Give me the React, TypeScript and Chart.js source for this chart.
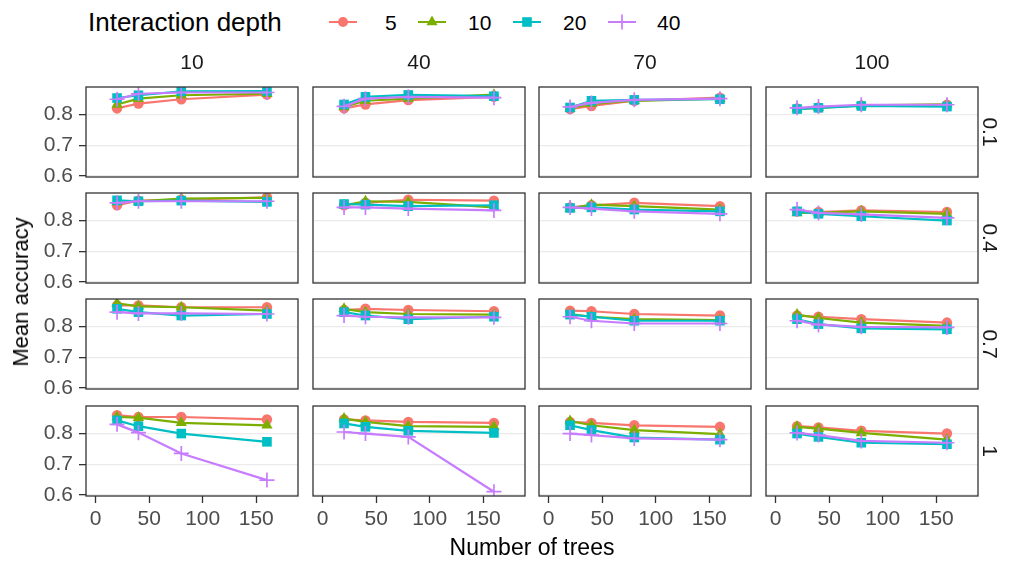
import React, { useEffect, useRef } from "react";
import { Chart, registerables } from "chart.js";

Chart.register(...registerables);

// ---------------- data ----------------
const treeCounts = [20, 40, 80, 160];
const columnLabels = ["10", "40", "70", "100"];
const rowLabels = ["0.1", "0.4", "0.7", "1"];
const depthLabels = ["5", "10", "20", "40"];
const xTickValues = [0, 50, 100, 150];
const yTickValues = [0.6, 0.7, 0.8];

// accuracy[row][col][treeIndex]
const acc5 = [
  [[0.820, 0.836, 0.850, 0.865], [0.820, 0.833, 0.847, 0.858], [0.818, 0.828, 0.845, 0.855], [0.820, 0.823, 0.830, 0.832]],
  [[0.850, 0.865, 0.868, 0.876], [0.850, 0.858, 0.868, 0.865], [0.843, 0.850, 0.858, 0.847], [0.830, 0.828, 0.833, 0.828]],
  [[0.869, 0.869, 0.863, 0.863], [0.854, 0.858, 0.854, 0.850], [0.852, 0.850, 0.841, 0.836], [0.836, 0.832, 0.824, 0.813]],
  [[0.860, 0.854, 0.854, 0.846], [0.846, 0.843, 0.838, 0.835], [0.838, 0.835, 0.827, 0.822], [0.824, 0.820, 0.809, 0.800]],
];
const acc10 = [
  [[0.833, 0.852, 0.863, 0.868], [0.825, 0.845, 0.852, 0.865], [0.820, 0.835, 0.845, 0.852], [0.818, 0.822, 0.830, 0.833]],
  [[0.861, 0.863, 0.872, 0.874], [0.850, 0.863, 0.861, 0.843], [0.839, 0.852, 0.847, 0.836], [0.825, 0.825, 0.830, 0.822]],
  [[0.876, 0.866, 0.863, 0.852], [0.858, 0.847, 0.841, 0.839], [0.841, 0.832, 0.824, 0.821], [0.839, 0.828, 0.813, 0.802]],
  [[0.854, 0.852, 0.835, 0.827], [0.849, 0.838, 0.824, 0.822], [0.841, 0.827, 0.811, 0.798], [0.822, 0.816, 0.802, 0.780]],
];
const acc20 = [
  [[0.854, 0.863, 0.876, 0.877], [0.833, 0.858, 0.864, 0.860], [0.823, 0.845, 0.848, 0.850], [0.818, 0.822, 0.828, 0.826]],
  [[0.866, 0.863, 0.865, 0.861], [0.854, 0.852, 0.847, 0.850], [0.841, 0.843, 0.836, 0.830], [0.830, 0.822, 0.814, 0.800]],
  [[0.858, 0.847, 0.836, 0.841], [0.847, 0.836, 0.824, 0.832], [0.839, 0.832, 0.819, 0.819], [0.824, 0.808, 0.794, 0.791]],
  [[0.843, 0.824, 0.800, 0.773], [0.833, 0.822, 0.809, 0.802], [0.827, 0.811, 0.787, 0.780], [0.800, 0.789, 0.770, 0.765]],
];
const acc40 = [
  [[0.850, 0.868, 0.872, 0.872], [0.827, 0.852, 0.858, 0.855], [0.825, 0.838, 0.848, 0.852], [0.822, 0.826, 0.832, 0.832]],
  [[0.858, 0.863, 0.863, 0.863], [0.843, 0.843, 0.839, 0.833], [0.843, 0.839, 0.830, 0.822], [0.836, 0.825, 0.820, 0.809]],
  [[0.847, 0.843, 0.843, 0.841], [0.836, 0.832, 0.830, 0.830], [0.832, 0.819, 0.810, 0.810], [0.819, 0.806, 0.799, 0.797]],
  [[0.830, 0.803, 0.735, 0.648], [0.805, 0.800, 0.789, 0.610], [0.800, 0.795, 0.784, 0.780], [0.802, 0.795, 0.776, 0.770]],
];
const seriesValues = [acc5, acc10, acc20, acc40];

// ---------------- styles ----------------
const COLORS = ["#F8766D", "#7CAE00", "#00BFC4", "#C77CFF"];
const POINT_STYLES = ["circle", "triangle", "rect", "cross"];
const POINT_RADII = [5.2, 6.5, 6.8, 7.5];
const FONT = "'Liberation Sans', Arial, sans-serif";

const PANEL_L = [86, 313, 539, 766];
const PANEL_T = [87, 193, 299, 406];
const PANEL_W = 212;
const PANEL_H = 90;
const PAD = 24;
const YW = 60;
const XH = 40;

const panelBorder = {
  id: "panelBorder",
  afterDraw(chart: any) {
    const { ctx, chartArea: a } = chart;
    ctx.save();
    ctx.strokeStyle = "#333333";
    ctx.lineWidth = 1.3;
    ctx.strokeRect(a.left, a.top, a.right - a.left, a.bottom - a.top);
    ctx.restore();
  },
};

function makeConfig(r: number, c: number): any {
  const isLeft = c === 0;
  const isBottom = r === rowLabels.length - 1;
  return {
    type: "line",
    data: {
      datasets: depthLabels.map((d, si) => ({
        label: d,
        data: treeCounts.map((x, i) => ({ x, y: seriesValues[si][r][c][i] })),
        borderColor: COLORS[si],
        backgroundColor: COLORS[si],
        pointBackgroundColor: COLORS[si],
        pointBorderColor: COLORS[si],
        pointStyle: POINT_STYLES[si],
        pointRadius: POINT_RADII[si],
        pointBorderWidth: si === 3 ? 1.7 : 0,
        borderWidth: 2.2,
        tension: 0,
        order: depthLabels.length - 1 - si,
      })),
    },
    options: {
      animation: false,
      responsive: false,
      events: [],
      layout: { padding: PAD },
      plugins: { legend: { display: false }, tooltip: { enabled: false } },
      scales: {
        x: {
          type: "linear",
          min: -9,
          max: 189,
          display: isBottom,
          afterBuildTicks: (s: any) => {
            s.ticks = xTickValues.map((v) => ({ value: v }));
          },
          afterFit: (s: any) => {
            s.height = isBottom ? XH : 0;
          },
          border: { display: false },
          grid: {
            drawOnChartArea: false,
            drawTicks: true,
            tickLength: 7,
            tickColor: "#333333",
            tickWidth: 1.3,
          },
          ticks: {
            padding: 4,
            color: "#4D4D4D",
            font: { family: FONT, size: 21 },
            maxRotation: 0,
            autoSkip: false,
            callback: (v: any) => String(v),
          },
        },
        y: {
          type: "linear",
          min: 0.596,
          max: 0.89,
          afterBuildTicks: (s: any) => {
            s.ticks = yTickValues.map((v) => ({ value: v }));
          },
          afterFit: (s: any) => {
            s.width = isLeft ? YW : 0;
          },
          border: { display: false },
          grid: {
            color: "#EBEBEB",
            lineWidth: 1.3,
            drawTicks: isLeft,
            tickLength: 7,
            tickColor: "#333333",
            tickWidth: 1.3,
          },
          ticks: {
            display: isLeft,
            padding: 6,
            color: "#4D4D4D",
            font: { family: FONT, size: 21 },
            autoSkip: false,
            callback: (v: any) => String(v),
          },
        },
      },
    },
    plugins: [panelBorder],
  };
}

function Marker({ style, color }: { style: string; color: string }) {
  const cx = 14;
  const cy = 10;
  if (style === "circle") return <circle cx={cx} cy={cy} r={5} fill={color} />;
  if (style === "triangle")
    return <polygon points={`${cx},${cy - 6.5} ${cx + 5.6},${cy + 3.3} ${cx - 5.6},${cy + 3.3}`} fill={color} />;
  if (style === "rect") return <rect x={cx - 4.8} y={cy - 4.8} width={9.6} height={9.6} fill={color} />;
  return (
    <g stroke={color} strokeWidth={1.7}>
      <line x1={cx - 7.5} y1={cy} x2={cx + 7.5} y2={cy} />
      <line x1={cx} y1={cy - 7.5} x2={cx} y2={cy + 7.5} />
    </g>
  );
}

const LEGEND_KEY_X = [329, 418, 513, 608];
const LEGEND_TEXT_X = [385, 468, 563, 657];

export default function App() {
  const canvasRefs = useRef<(HTMLCanvasElement | null)[]>([]);

  useEffect(() => {
    const charts: Chart[] = [];
    for (let r = 0; r < rowLabels.length; r++) {
      for (let c = 0; c < columnLabels.length; c++) {
        const cv = canvasRefs.current[r * columnLabels.length + c];
        if (cv) charts.push(new Chart(cv, makeConfig(r, c)));
      }
    }
    return () => charts.forEach((ch) => ch.destroy());
  }, []);

  const canvases: React.ReactNode[] = [];
  for (let r = 0; r < rowLabels.length; r++) {
    for (let c = 0; c < columnLabels.length; c++) {
      const isLeft = c === 0;
      const isBottom = r === rowLabels.length - 1;
      const left = PANEL_L[c] - PAD - (isLeft ? YW : 0);
      const top = PANEL_T[r] - PAD;
      const w = PANEL_W + 2 * PAD + (isLeft ? YW : 0);
      const h = PANEL_H + 2 * PAD + (isBottom ? XH : 0);
      const idx = r * columnLabels.length + c;
      canvases.push(
        <canvas
          key={idx}
          ref={(el) => {
            canvasRefs.current[idx] = el;
          }}
          width={w}
          height={h}
          style={{ position: "absolute", left, top, width: w, height: h }}
        />
      );
    }
  }

  const text = (
    key: string,
    content: string,
    cx: number,
    cy: number,
    size: number,
    color: string,
    rotate = 0
  ) => (
    <div
      key={key}
      style={{
        position: "absolute",
        left: cx,
        top: cy,
        transform: `translate(-50%, -50%) rotate(${rotate}deg)`,
        fontFamily: FONT,
        fontSize: size,
        color,
        whiteSpace: "nowrap",
        lineHeight: 1,
      }}
    >
      {content}
    </div>
  );

  const panelsRight = PANEL_L[3] + PANEL_W;
  const panelsBottom = PANEL_T[3] + PANEL_H;

  return (
    <div
      style={{
        position: "absolute",
        left: 0,
        top: 0,
        width: 1011,
        height: 561,
        background: "#ffffff",
        overflow: "hidden",
      }}
    >
      {canvases}
      {columnLabels.map((l, c) => text("col" + c, l, PANEL_L[c] + PANEL_W / 2, 61, 21, "#1A1A1A"))}
      {rowLabels.map((l, r) => text("row" + r, l, 990, PANEL_T[r] + PANEL_H / 2, 21, "#1A1A1A", 90))}
      {text("ytitle", "Mean accuracy", 21, (PANEL_T[0] + panelsBottom) / 2, 22, "#000000", -90)}
      {text("xtitle", "Number of trees", (PANEL_L[0] + panelsRight) / 2, 547, 23, "#000000")}
      <div
        style={{
          position: "absolute",
          left: 88,
          top: 22,
          transform: "translateY(-50%)",
          fontFamily: FONT,
          fontSize: 26,
          color: "#000",
          whiteSpace: "nowrap",
          lineHeight: 1,
        }}
      >
        Interaction depth
      </div>
      {depthLabels.map((d, i) => (
        <React.Fragment key={"lg" + i}>
          <svg
            width={28}
            height={20}
            style={{ position: "absolute", left: LEGEND_KEY_X[i], top: 12 }}
          >
            <line x1={0} y1={10} x2={28} y2={10} stroke={COLORS[i]} strokeWidth={2} />
            <Marker style={POINT_STYLES[i]} color={COLORS[i]} />
          </svg>
          <div
            style={{
              position: "absolute",
              left: LEGEND_TEXT_X[i],
              top: 22,
              transform: "translateY(-50%)",
              fontFamily: FONT,
              fontSize: 21,
              color: "#000",
              whiteSpace: "nowrap",
              lineHeight: 1,
            }}
          >
            {d}
          </div>
        </React.Fragment>
      ))}
    </div>
  );
}
